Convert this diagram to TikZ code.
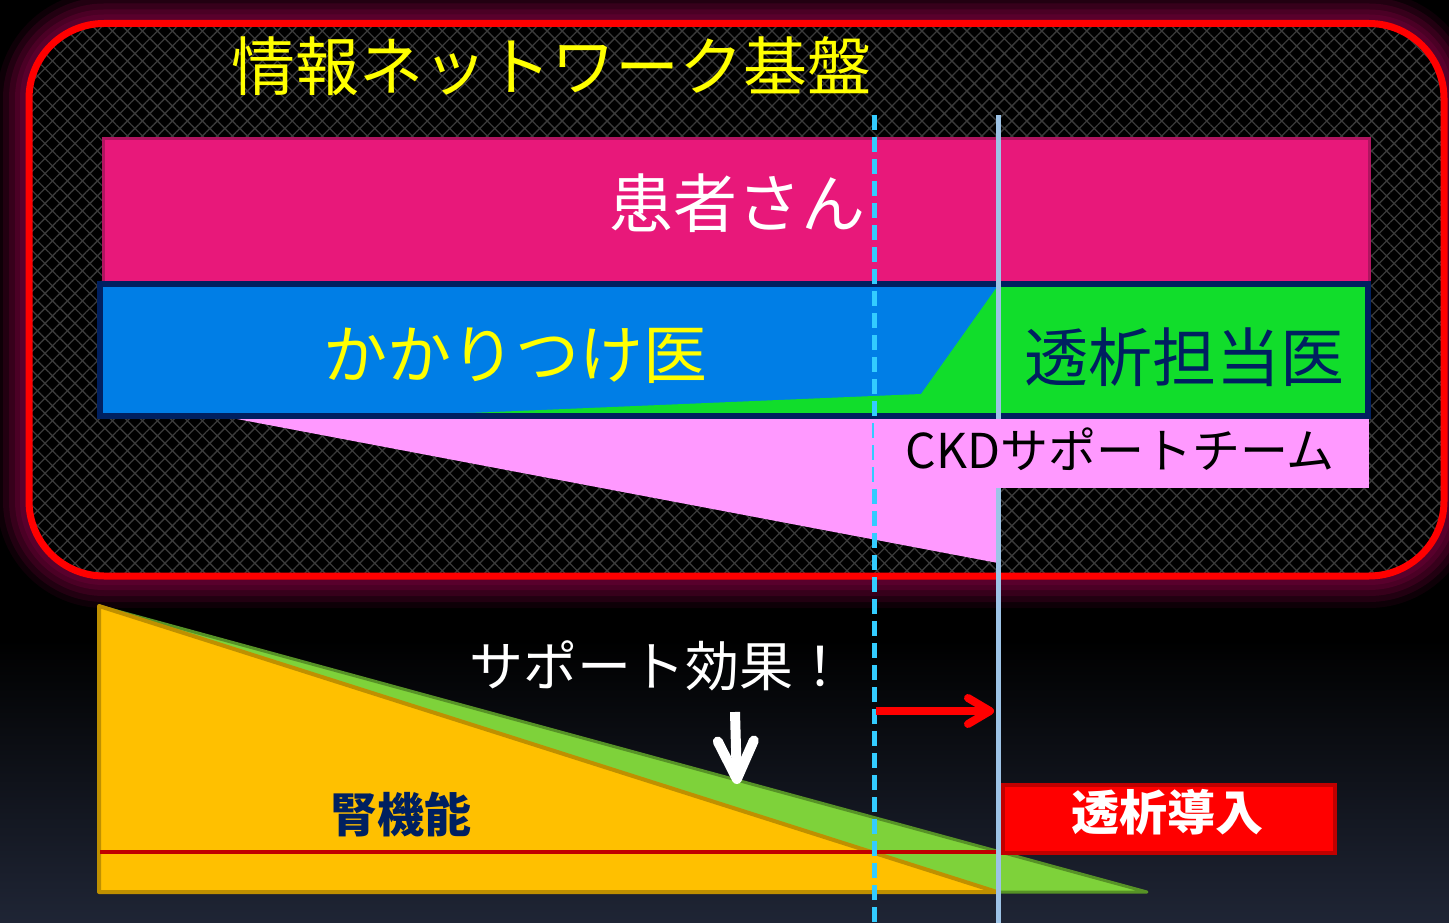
\documentclass[tikz,border=0pt]{standalone}
\usepackage{fontspec}
\setmainfont{Noto Sans CJK JP}
\usetikzlibrary{arrows.meta,patterns.meta}
\definecolor{bgbot}{RGB}{31,37,53}
\definecolor{glowc}{RGB}{96,0,48}
\definecolor{hatchc}{RGB}{58,58,58}
\definecolor{magfill}{RGB}{232,24,122}
\definecolor{magdraw}{RGB}{176,20,96}
\definecolor{bluefill}{RGB}{0,126,230}
\definecolor{navy}{RGB}{0,32,96}
\definecolor{greenA}{RGB}{17,221,43}
\definecolor{pinkA}{RGB}{255,153,255}
\definecolor{dashblue}{RGB}{51,204,255}
\definecolor{lineblue}{RGB}{157,195,230}
\definecolor{goldfill}{RGB}{255,192,0}
\definecolor{golddraw}{RGB}{191,144,0}
\definecolor{greenB}{RGB}{126,210,58}
\definecolor{greenBd}{RGB}{86,146,38}
\definecolor{darkred}{RGB}{192,0,0}
\definecolor{ttlyellow}{RGB}{255,255,0}
\tikzset{
  lbl/.style={inner sep=0pt,outer sep=0pt,anchor=center},
  frame/.style={rounded corners=75},
  vline/.style={line width=5},
}
\begin{document}
\begin{tikzpicture}[x=1pt,y=-1pt]
\useasboundingbox (0,0) rectangle (1449,923);
% background
\fill[black] (0,0) rectangle (1449,923);
\shade[top color=black,bottom color=bgbot] (0,640) rectangle (1449,923);
% glow around frame
\foreach \w/\o in {64/0.15,52/0.25,40/0.35,28/0.5,18/0.7}
  \draw[glowc,line width=\w,opacity=\o,frame] (29,23.5) rectangle (1444,576);
\fill[black,frame] (29,23.5) rectangle (1444,576);
\fill[frame,pattern={Hatch[angle=45,distance=10.6pt,line width=1.3pt]},pattern color=hatchc] (29,23.5) rectangle (1444,576);
\draw[red,line width=7,frame] (29,23.5) rectangle (1444,576);
% title
\node[lbl,font=\fontsize{64}{64}\selectfont,text=ttlyellow] (title) at (551,66) {情報ネットワーク基盤};
% patient box
\node[draw=magdraw,fill=magfill,line width=3,minimum width=1266,minimum height=143,inner sep=0] (patient) at (736,210.5) {};
% blue box
\node[fill=bluefill,minimum width=1268,minimum height=132,inner sep=0] (gp) at (734,350) {};
\fill[greenA] (470,413) -- (921,394) -- (997,287) -- (1366,287) -- (1366,413) -- cycle;
\node[draw=navy,line width=6,minimum width=1268,minimum height=132,inner sep=0] (gpframe) at (734,350) {};
% pink wedge
\fill[pinkA] (237,419) -- (998,419) -- (998,563) -- cycle;
% bottom triangles
\draw[fill=greenB,draw=greenBd,line width=3,line join=round] (99,606) -- (1147,892) -- (99,892) -- cycle;
\draw[fill=goldfill,draw=golddraw,line width=4,line join=round] (99,606) -- (997,892) -- (99,892) -- cycle;
\draw[darkred,line width=4] (100,852) -- (1003,852);
% vertical lines
\coordinate (d1) at (874.5,115);
\coordinate (d2) at (874.5,923);
\coordinate (s1) at (998.5,115);
\coordinate (s2) at (998.5,923);
\draw[dashblue,vline,dash pattern=on 15 off 7] (d1) -- (d2);
\draw[lineblue,vline] (s1) -- (s2);
% CKD box
\node[fill=pinkA,minimum width=495,minimum height=69,inner sep=0] (ckd) at (1121.5,453) {};
% red box
\node[draw=darkred,fill=red,line width=4,minimum width=332,minimum height=68,inner sep=0] (intro) at (1168.5,818.5) {};
% labels
\node[lbl,font=\fontsize{64}{64}\selectfont,text=white] (tpat) at (737,203) {患者さん};
\node[lbl,font=\fontsize{64}{64}\selectfont,text=ttlyellow] (tgp) at (515.5,356) {かかりつけ医};
\node[lbl,font=\fontsize{64}{64}\selectfont,text=navy] (tdial) at (1184,357) {透析担当医};
\node[lbl,font=\fontsize{48}{48}\selectfont,text=black] (tckd) at (1120,449) {CKDサポートチーム};
\node[lbl,font=\fontsize{54}{54}\selectfont,text=white] (tsup) at (658,666) {サポート効果！};
\node[lbl,font=\bfseries\fontsize{47}{47}\selectfont,text=navy] (tkid) at (401,814) {腎機能};
\node[lbl,font=\bfseries\fontsize{48}{48}\selectfont,text=white] (tintro) at (1167,812) {透析導入};
% arrows
\coordinate (ra1) at (876,711);
\coordinate (ra2) at (994,711);
\draw[red,line width=8,-{Straight Barb[length=22,width=26,round]}] (ra1) -- (ra2);
\coordinate (wa1) at (735,712);
\coordinate (wa2) at (737,784);
\draw[white,line width=10,-{Straight Barb[length=38,width=36,round]}] (wa1) -- (wa2);
\end{tikzpicture}
\end{document}
